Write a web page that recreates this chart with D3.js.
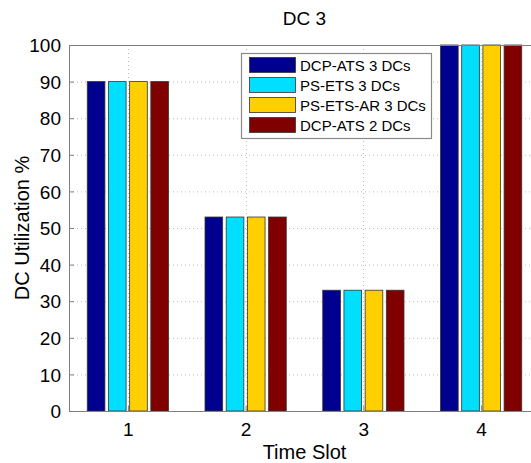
<!DOCTYPE html>
<html>
<head>
<meta charset="utf-8">
<script src="https://cdn.jsdelivr.net/npm/d3@7/dist/d3.min.js"></script>
<style>
  html, body { margin: 0; padding: 0; background: #fff; }
  svg { display: block; font-family: Arial, "Liberation Sans", sans-serif; }
</style>
</head>
<body>
<svg id="chart" width="531" height="463"></svg>
<script>
// Utilization of DC 3 per time slot, for each scheduling scheme
const timeSlots = [1, 2, 3, 4];
const seriesNames = ["DCP-ATS 3 DCs", "PS-ETS 3 DCs", "PS-ETS-AR 3 DCs", "DCP-ATS 2 DCs"];
const dcpAts3 = [90, 53, 33, 100];
const psEts3 = [90, 53, 33, 100];
const psEtsAr3 = [90, 53, 33, 100];
const dcpAts2 = [90, 53, 33, 100];
const seriesValues = [dcpAts3, psEts3, psEtsAr3, dcpAts2];
const seriesColors = ["#00008f", "#00dfff", "#ffcf00", "#800000"];
const yTicks = [0, 10, 20, 30, 40, 50, 60, 70, 80, 90, 100];

const svg = d3.select("#chart");
const plotLeft = 69, plotRight = 540, plotTop = 45, plotBottom = 411;

const x = d3.scaleLinear().domain([0.5, 4.5]).range([plotLeft, plotRight]);
const y = d3.scaleLinear().domain([0, 100]).range([plotBottom, plotTop]);

const barPitch = 0.18, barWidth = 0.15;
const gridColor = "#bdbdbd", axisColor = "#7f7f7f";

// dotted grid
const grid = svg.append("g");
grid.selectAll("line.h").data(yTicks.slice(1, -1)).join("line")
  .attr("x1", plotLeft).attr("x2", plotRight)
  .attr("y1", d => y(d) + 0.5).attr("y2", d => y(d) + 0.5)
  .attr("stroke", gridColor).attr("stroke-width", 1).attr("stroke-dasharray", "1,3");
grid.selectAll("line.v").data(timeSlots).join("line")
  .attr("x1", d => Math.round(x(d)) + 0.5).attr("x2", d => Math.round(x(d)) + 0.5)
  .attr("y1", plotTop).attr("y2", plotBottom)
  .attr("stroke", gridColor).attr("stroke-width", 1).attr("stroke-dasharray", "1,3");

// grouped bars
const bars = svg.append("g");
seriesValues.forEach((vals, si) => {
  const off = (si - 1.5) * barPitch;
  bars.selectAll(null).data(vals).join("rect")
    .attr("x", (d, i) => x(timeSlots[i] + off - barWidth / 2))
    .attr("width", x(barWidth) - x(0))
    .attr("y", d => y(d))
    .attr("height", d => y(0) - y(d))
    .attr("fill", seriesColors[si])
    .attr("stroke", "#333")
    .attr("stroke-width", 0.8);
});

// axes
const yAxis = d3.axisLeft(y).tickValues(yTicks).tickSize(-5).tickPadding(8).tickFormat(d3.format("d"));
const gy = svg.append("g").attr("transform", `translate(${plotLeft},0)`).call(yAxis);
const xAxis = d3.axisBottom(x).tickValues(timeSlots).tickSize(-5).tickPadding(12).tickFormat(d3.format("d"));
const gx = svg.append("g").attr("transform", `translate(0,${plotBottom})`).call(xAxis);
[gx, gy].forEach(g => {
  g.select(".domain").attr("stroke", axisColor);
  g.selectAll(".tick line").attr("stroke", axisColor);
  g.selectAll(".tick text").attr("fill", "#000").style("font-size", "19px")
    .style("font-family", "Arial, 'Liberation Sans', sans-serif");
});
gy.selectAll(".tick text").attr("dy", "0.35em");
gx.selectAll(".tick text").attr("dy", "0.71em");

// top border of the box
svg.append("line").attr("x1", plotLeft).attr("x2", plotRight)
  .attr("y1", plotTop + 0.5).attr("y2", plotTop + 0.5).attr("stroke", axisColor);

// titles
svg.append("text").attr("x", (plotLeft + plotRight) / 2).attr("y", 25)
  .attr("text-anchor", "middle").style("font-size", "19px").text("DC 3");
svg.append("text").attr("x", (plotLeft + plotRight) / 2).attr("y", 459)
  .attr("text-anchor", "middle").style("font-size", "20px").text("Time Slot");
svg.append("text").attr("transform", `translate(29,${(plotTop + plotBottom) / 2}) rotate(-90)`)
  .attr("text-anchor", "middle").style("font-size", "20px").text("DC Utilization %");

// legend
const lg = svg.append("g").attr("transform", "translate(241,53)");
lg.append("rect").attr("x", 0.5).attr("y", 0.5).attr("width", 190).attr("height", 85)
  .attr("fill", "#fff").attr("stroke", "#8a8a8a").attr("stroke-width", 1.2);
seriesNames.forEach((name, i) => {
  const row = lg.append("g").attr("transform", `translate(0,${4 + i * 20})`);
  row.append("rect").attr("x", 8.5).attr("y", 0.5).attr("width", 46).attr("height", 15)
    .attr("fill", seriesColors[i]).attr("stroke", "#333").attr("stroke-width", 0.8);
  row.append("text").attr("x", 59).attr("y", 14).style("font-size", "15px").text(name);
});
</script>
</body>
</html>
